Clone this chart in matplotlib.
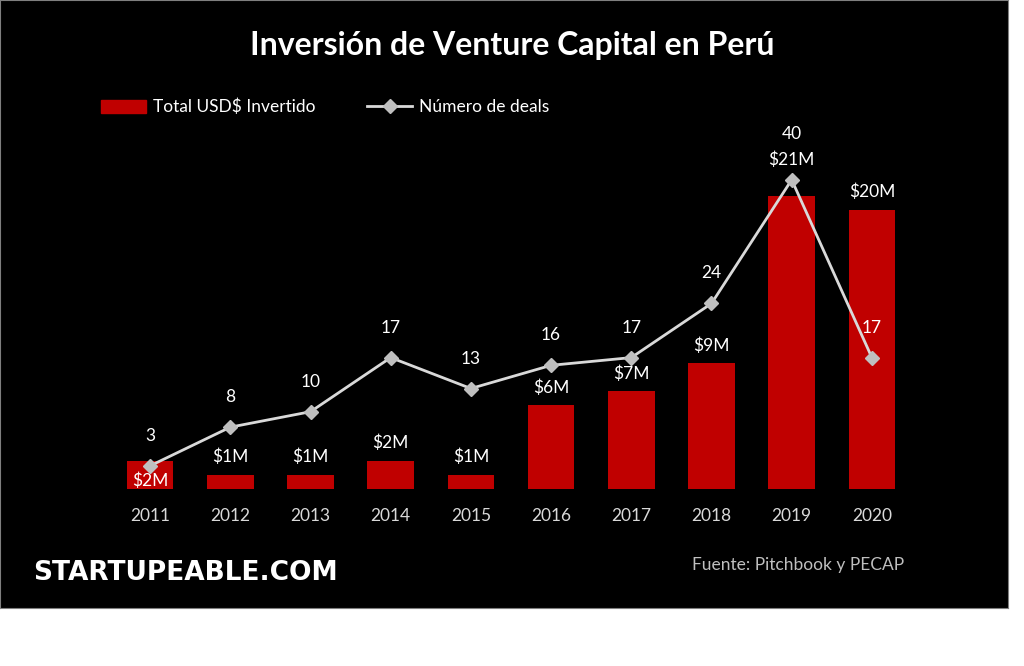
import matplotlib
matplotlib.use("Agg")
import matplotlib.pyplot as plt
from matplotlib.patches import Rectangle
from matplotlib.lines import Line2D

years = ["2011","2012","2013","2014","2015","2016","2017","2018","2019","2020"]
invest = [2, 1, 1, 2, 1, 6, 7, 9, 21, 20]
deals = [3, 8, 10, 17, 13, 16, 17, 24, 40, 17]
invest_labels = ["$2M","$1M","$1M","$2M","$1M","$6M","$7M","$9M","$21M","$20M"]

plt.rcParams['font.family'] = ['Lato', 'DejaVu Sans']
fig = plt.figure(figsize=(10.24, 6.66), dpi=100)
fig.patch.set_facecolor('white')
W, H = 1024, 666
bg = fig.add_axes([0, 58/H, 1008/W, 608/H], zorder=-5)
bg.set_facecolor('black')
bg.set_xticks([]); bg.set_yticks([])
for s in bg.spines.values():
    s.set_color('#7f7f7f')

left, right = 102/W, 920/W
bottom, top = (H-489)/H, (H-130)/H
ax = fig.add_axes([left, bottom, right-left, top-bottom])
ax.set_facecolor('none')
x = list(range(len(years)))
ax.bar(x, invest, width=0.58, color='#c00000', zorder=2)
ax.set_xlim(-0.6, 9.6)
ax.set_ylim(0, 359/13.95)
ax.set_yticks([])
ax.set_xticks(x)
ax.set_xticklabels(years, color='#d9d9d9', fontsize=12.5)
ax.tick_params(axis='x', length=0, pad=14)
for s in ax.spines.values():
    s.set_visible(False)

ax2 = ax.twinx()
ax2.set_ylim(0, 359/7.73)
ax2.plot(x, deals, color='#d9d9d9', lw=2, marker='D', markersize=7,
         markerfacecolor='#bfbfbf', markeredgecolor='#bfbfbf', zorder=3)
ax2.set_yticks([])
for s in ax2.spines.values():
    s.set_visible(False)

for i, (v, lab) in enumerate(zip(invest, invest_labels)):
    off = 18
    if i == 0:
        off = -20
    if i == 8:
        off = 36
    ax.annotate(lab, (i, v), xytext=(0, off*0.72), textcoords='offset points',
                ha='center', va='center', color='white', fontsize=12.5)
for i, d in enumerate(deals):
    off = 46 if i == 8 else 30
    ax2.annotate(str(d), (i, d), xytext=(0, off*0.72), textcoords='offset points',
                 ha='center', va='center', color='white', fontsize=12.5)

fig.text(512/W, 1-45/H, "Inversión de Venture Capital en Perú", ha='center', va='center',
         color='white', fontsize=23, fontweight='bold')
handles = [Rectangle((0, 0), 1, 1, color='#c00000'),
           Line2D([], [], color='#d9d9d9', lw=2, marker='D', markersize=7,
                  markerfacecolor='#bfbfbf', markeredgecolor='#bfbfbf')]
fig.legend(handles, ["Total USD$ Invertido", "Número de deals"], loc='center left',
           bbox_to_anchor=(85/W, 1-107/H), ncol=2, frameon=False, fontsize=12.5,
           labelcolor='white', handlelength=2.6, handletextpad=0.4, columnspacing=3,
           handleheight=0.8)
fig.text(33/W, 1-573/H, "STARTUPEABLE.COM", ha='left', va='center', color='white',
         fontsize=19, fontweight='bold', fontfamily=['DejaVu Sans'])
fig.text(692/W, 1-565/H, "Fuente: Pitchbook y PECAP", ha='left', va='center',
         color='#bfbfbf', fontsize=12.5)
fig.savefig("out.png", dpi=100, facecolor='white')
